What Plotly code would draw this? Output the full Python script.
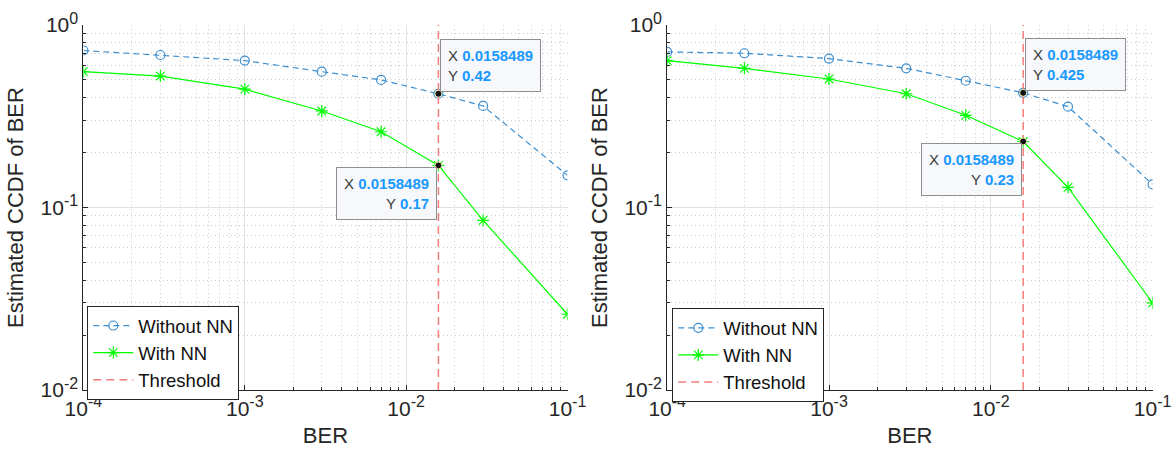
import math
import plotly.graph_objects as go

# BER grid (the 6th point is the threshold, 10^-1.8)
ber = [1e-4, 3e-4, 1e-3, 3e-3, 7e-3, 0.0158489, 0.03, 0.1]
threshold = 0.0158489
tip_index = 5

# Estimated CCDF values, left panel
left_without_nn = [0.725, 0.685, 0.638, 0.555, 0.50, 0.42, 0.36, 0.15]
left_with_nn = [0.555, 0.525, 0.445, 0.338, 0.26, 0.17, 0.085, 0.026]

# Estimated CCDF values, right panel
right_without_nn = [0.712, 0.70, 0.655, 0.579, 0.495, 0.425, 0.357, 0.134]
right_with_nn = [0.638, 0.579, 0.506, 0.42, 0.32, 0.23, 0.129, 0.03]

x_tickvals = [1e-4, 1e-3, 1e-2, 1e-1]
x_exponents = ["-4", "-3", "-2", "-1"]
y_tickvals = [1e-2, 1e-1, 1e0]
y_exponents = ["-2", "-1", "0"]
y_range = [0.01, 1.0]

FONT = "Liberation Sans, Arial, Helvetica, sans-serif"
INK = "#262626"
BLUE = "#3C8ECF"
GREEN = "#00FF00"
RED = "#F47C7C"
TIP_BLUE = "#1A98FF"


def power_labels(exponents):
    return [f"10<sup><span style='font-size:16px'>{e}</span></sup>" for e in exponents]


fig = go.Figure()

panels = [
    ("x", "y", "legend", left_without_nn, left_with_nn),
    ("x2", "y2", "legend2", right_without_nn, right_with_nn),
]


def tip_text(xv, yv):
    return (f"X <b><span style='color:{TIP_BLUE}'>{xv:g}</span></b><br>"
            f"Y <b><span style='color:{TIP_BLUE}'>{yv:g}</span></b>")


tip_style = dict(
    showarrow=False, bgcolor="#F7F8FC", bordercolor="#8E8E8E", borderwidth=1,
    borderpad=7, font=dict(family=FONT, size=15, color="#3A3A3A"),
)

for xa, ya, leg, without_nn, with_nn in panels:
    fig.add_trace(go.Scatter(
        x=ber, y=without_nn, name="Without NN", mode="lines+markers",
        line=dict(color=BLUE, width=1.2, dash="6px,4px"),
        marker=dict(symbol="circle-open", size=9, color=BLUE, line=dict(width=1.2)),
        xaxis=xa, yaxis=ya, legend=leg,
    ))
    fig.add_trace(go.Scatter(
        x=ber, y=with_nn, name="With NN", mode="lines+markers",
        line=dict(color=GREEN, width=1.2),
        marker=dict(symbol="asterisk-open", size=10, color=GREEN, line=dict(width=1.2, color=GREEN)),
        xaxis=xa, yaxis=ya, legend=leg,
    ))
    fig.add_trace(go.Scatter(
        x=[threshold, threshold], y=y_range, name="Threshold", mode="lines",
        line=dict(color=RED, width=1.5, dash="8px,5px"),
        xaxis=xa, yaxis=ya, legend=leg,
    ))
    # data tip markers on both curves at the threshold
    tip_y = [without_nn[tip_index], with_nn[tip_index]]
    fig.add_trace(go.Scatter(
        x=[ber[tip_index]] * 2, y=tip_y, mode="markers", showlegend=False,
        marker=dict(symbol="circle", size=7, color="#111111",
                    line=dict(width=1, color="#F2F2B0")),
        xaxis=xa, yaxis=ya, hoverinfo="skip",
    ))

    # annotation positions on log axes are given in log10 units
    tx = math.log10(ber[tip_index])
    # upper tip: to the right, above the point
    fig.add_annotation(
        x=tx, y=math.log10(without_nn[tip_index]), xref=xa, yref=ya,
        text=tip_text(ber[tip_index], without_nn[tip_index]),
        xanchor="left", yanchor="bottom", xshift=2, yshift=2, align="left",
        **tip_style,
    )
    # lower tip: to the left, below the point
    fig.add_annotation(
        x=tx, y=math.log10(with_nn[tip_index]), xref=xa, yref=ya,
        text=tip_text(ber[tip_index], with_nn[tip_index]),
        xanchor="right", yanchor="top", xshift=-1, yshift=-2, align="right",
        **tip_style,
    )

minor_x = [k * 10.0 ** e for e in range(-4, -1) for k in range(2, 10)]
minor_y = [k * 10.0 ** e for e in range(-2, 0) for k in range(2, 10)]

GRID = "#E1E1E1"
MINOR_GRID = "#CDCDCD"


def x_axis(domain, anchor):
    return dict(
        type="log", range=[-4, -1], domain=domain, anchor=anchor,
        showline=True, linecolor=INK, linewidth=1, mirror=False,
        ticks="inside", ticklen=5, tickcolor=INK,
        tickvals=x_tickvals, ticktext=power_labels(x_exponents),
        tickfont=dict(family=FONT, size=21, color=INK),
        showgrid=True, gridcolor=GRID, gridwidth=1,
        minor=dict(tickvals=minor_x, ticks="inside", ticklen=3, tickcolor=INK,
                   showgrid=True, gridcolor=MINOR_GRID, griddash="1px,3px", gridwidth=1),
        title=dict(text="BER", font=dict(family=FONT, size=22, color=INK), standoff=8),
        automargin=False,
    )


def y_axis(domain, anchor):
    return dict(
        type="log", range=[-2, 0], domain=domain, anchor=anchor,
        showline=True, linecolor=INK, linewidth=1, mirror=False,
        ticks="inside", ticklen=5, tickcolor=INK,
        tickvals=y_tickvals, ticktext=power_labels(y_exponents),
        tickfont=dict(family=FONT, size=21, color=INK),
        showgrid=True, gridcolor=GRID, gridwidth=1,
        minor=dict(tickvals=minor_y, ticks="inside", ticklen=3, tickcolor=INK,
                   showgrid=True, gridcolor=MINOR_GRID, griddash="1px,3px", gridwidth=1),
        title=dict(text="Estimated CCDF of BER", font=dict(family=FONT, size=22, color=INK),
                   standoff=10),
        automargin=False,
    )


W, H = 1174, 457
y_dom = [1 - 390 / H, 1 - 25 / H]

legend_style = dict(
    bgcolor="white", bordercolor=INK, borderwidth=1,
    font=dict(family=FONT, size=18.5, color="#111111"),
    xanchor="left", yanchor="top", tracegroupgap=0, itemwidth=40,
)

fig.update_layout(
    width=W, height=H, autosize=False,
    margin=dict(l=0, r=0, t=0, b=0),
    paper_bgcolor="white", plot_bgcolor="white",
    xaxis=x_axis([83.4 / W, 567.5 / W], "y"),
    yaxis=y_axis(y_dom, "x"),
    xaxis2=x_axis([667.2 / W, 1152.6 / W], "y2"),
    yaxis2=y_axis(y_dom, "x2"),
    legend=dict(x=87.3 / W, y=1 - 306 / H, **legend_style),
    legend2=dict(x=672.3 / W, y=1 - 308.3 / H, **legend_style),
    showlegend=True,
)

fig.write_html("out.html")
